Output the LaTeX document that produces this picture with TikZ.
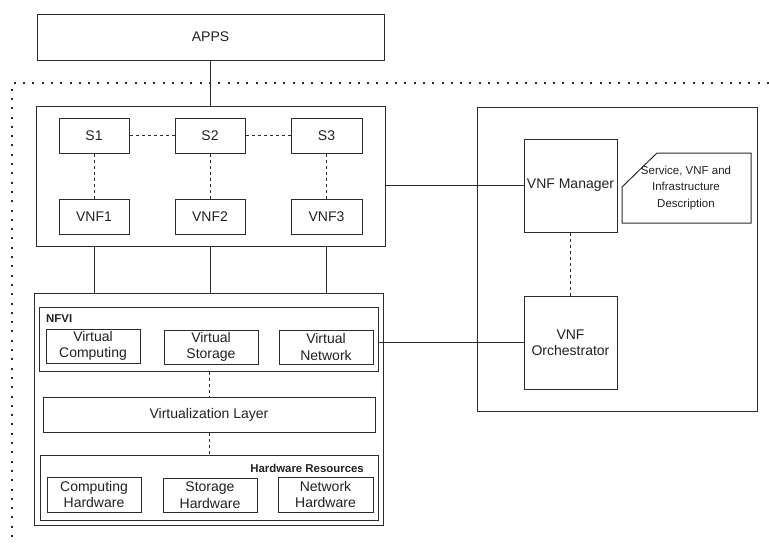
\documentclass[tikz,border=0pt]{standalone}
\usepackage{fontspec}
\setmainfont{Liberation Sans}
\definecolor{ln}{HTML}{2B2B2B}
\definecolor{tx}{HTML}{222222}
\tikzset{
  bx/.style={draw=ln,line width=1pt,fill=white,inner sep=0pt,align=center,text=tx,font=\fontsize{14}{16.5}\selectfont},
  cont/.style={draw=ln,line width=1pt,inner sep=0pt},
  ln/.style={draw=ln,line width=1pt},
  dsh/.style={draw=ln,line width=1pt,dash pattern=on 3pt off 3pt},
  dots/.style={draw=ln,line width=2pt,dash pattern=on 2pt off 7.3pt},
  lbl/.style={inner sep=0pt,text=tx,font=\fontsize{11.4}{12}\selectfont\bfseries}
}
\begin{document}
\begin{tikzpicture}[x=1pt,y=-1pt]
\useasboundingbox (0,0) rectangle (769,544);
% dotted border
\coordinate (dA) at (769,83);
\coordinate (dB) at (12,83);
\coordinate (dC) at (12,544);
\draw[dots] (dA) -- (dB) -- (dC);
% APPS
\node[bx,minimum width=347pt,minimum height=46pt] (apps) at (210.5,37) {APPS};
% top container
\node[cont,minimum width=349pt,minimum height=140pt] (top) at (210.5,176) {};
\node[bx,minimum width=70pt,minimum height=35pt] (s1) at (94,135.5) {S1};
\node[bx,minimum width=70pt,minimum height=35pt] (s2) at (210,135.5) {S2};
\node[bx,minimum width=71pt,minimum height=35pt] (s3) at (326.5,135.5) {S3};
\node[bx,minimum width=70pt,minimum height=35pt] (v1) at (94,216.5) {VNF1};
\node[bx,minimum width=70pt,minimum height=35pt] (v2) at (210,216.5) {VNF2};
\node[bx,minimum width=71pt,minimum height=35pt] (v3) at (326.5,216.5) {VNF3};
\draw[dsh] (s1) -- (s2);
\draw[dsh] (s2) -- (s3);
\draw[dsh] (s1) -- (v1);
\draw[dsh] (s2) -- (v2);
\draw[dsh] (s3) -- (v3);
\draw[ln] (apps.south) -- (top.north);
% bottom container
\node[cont,minimum width=349pt,minimum height=232pt] (bot) at (208.5,409) {};
\draw[ln] (v1.south |- top.south) -- (v1.south |- bot.north);
\draw[ln] (top.south) -- (top.south |- bot.north);
\draw[ln] (v3.south |- top.south) -- (v3.south |- bot.north);
% NFVI
\node[cont,minimum width=339pt,minimum height=64pt] (nfvi) at (208.5,339) {};
\node[lbl,anchor=west] (nfvil) at (46,319) {NFVI};
\node[bx,minimum width=94pt,minimum height=34pt] (vc) at (93,346) {Virtual\\Computing};
\node[bx,minimum width=94pt,minimum height=34pt] (vs) at (211,347) {Virtual\\Storage};
\node[bx,minimum width=94pt,minimum height=34pt] (vn) at (326,347) {Virtual\\Network};
% virtualization layer
\node[bx,minimum width=332pt,minimum height=35pt] (vl) at (209,414.5) {Virtualization Layer};
\draw[dsh] (vl.north |- nfvi.south) -- (vl.north);
% hardware
\node[cont,minimum width=338pt,minimum height=65pt] (hw) at (209,487.5) {};
\node[lbl,anchor=east] (hwl) at (364,468) {Hardware Resources};
\node[bx,minimum width=94pt,minimum height=35pt] (ch) at (94,494.5) {Computing\\Hardware};
\node[bx,minimum width=94pt,minimum height=34pt] (sh) at (210,495) {Storage\\Hardware};
\node[bx,minimum width=95pt,minimum height=35pt] (nh) at (325.5,494.5) {Network\\Hardware};
\draw[dsh] (vl.south) -- (vl.south |- hw.north);
% right container
\node[cont,minimum width=280pt,minimum height=304pt] (rc) at (617,259) {};
\node[bx,minimum width=93pt,minimum height=93pt] (mgr) at (570.5,185.5) {VNF Manager};
\node[bx,minimum width=93pt,minimum height=93pt] (orc) at (570.5,342.5) {VNF\\Orchestrator};
\draw[dsh] (mgr) -- (orc);
\draw[ln] (top.east |- mgr.west) -- (mgr.west);
\draw[ln] (nfvi.east |- orc.west) -- (orc.west);
% description
\coordinate (d1) at (622,187);
\coordinate (d2) at (657,153);
\coordinate (d3) at (751,153);
\coordinate (d4) at (751,223);
\coordinate (d5) at (622,223);
\draw[ln] (d1) -- (d2) -- (d3) -- (d4) -- (d5) -- cycle;
\node[inner sep=0pt,align=center,text=tx,font=\fontsize{11.5}{16.7}\selectfont] (desc) at (686,188) {Service, VNF and\\Infrastructure\\Description};
\end{tikzpicture}
\end{document}
